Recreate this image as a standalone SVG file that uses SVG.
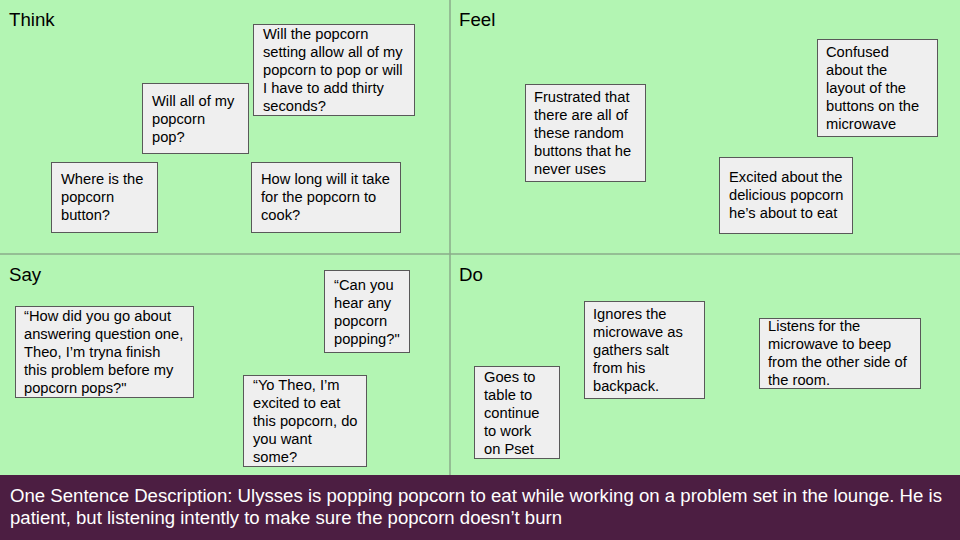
<svg xmlns="http://www.w3.org/2000/svg" width="960" height="540" viewBox="0 0 960 540">
<style>
.bg{fill:#b3f5b3}
.div{stroke:#8aab8a;stroke-width:1.5;fill:none}
.box{fill:#efefef;stroke:#595959;stroke-width:1}
.t{font-family:"Liberation Sans",Arial,sans-serif;font-size:14.7px;fill:#000}
.h{font-family:"Liberation Sans",Arial,sans-serif;font-size:18.7px;fill:#000}
.d{font-family:"Liberation Sans",Arial,sans-serif;font-size:18.7px;fill:#ffffff}
</style>
<rect x="0" y="0" width="960" height="540" class="bg"/>
<g id="dividers">
<line x1="450" y1="0" x2="450" y2="475" class="div"/>
<line x1="0" y1="254" x2="960" y2="254" class="div"/>
</g>
<g id="headings">
<text class="h" x="9" y="26">Think</text>
<text class="h" x="459" y="26">Feel</text>
<text class="h" x="9" y="281">Say</text>
<text class="h" x="459" y="281">Do</text>
</g>
<g id="think-setting">
<rect class="box" x="253.5" y="24.5" width="161" height="91"/>
<text class="t" x="263" y="39">Will the popcorn</text>
<text class="t" x="263" y="57">setting allow all of my</text>
<text class="t" x="263" y="75">popcorn to pop or will</text>
<text class="t" x="263" y="93">I have to add thirty</text>
<text class="t" x="263" y="111">seconds?</text>
</g>
<g id="think-allpop">
<rect class="box" x="142.5" y="83.5" width="106" height="70"/>
<text class="t" x="152" y="106">Will all of my</text>
<text class="t" x="152" y="124">popcorn</text>
<text class="t" x="152" y="142">pop?</text>
</g>
<g id="think-where">
<rect class="box" x="51.5" y="162.5" width="106" height="70"/>
<text class="t" x="61" y="184">Where is the</text>
<text class="t" x="61" y="202">popcorn</text>
<text class="t" x="61" y="220">button?</text>
</g>
<g id="think-howlong">
<rect class="box" x="251.5" y="162.5" width="149" height="70"/>
<text class="t" x="261" y="184">How long will it take</text>
<text class="t" x="261" y="202">for the popcorn to</text>
<text class="t" x="261" y="220">cook?</text>
</g>
<g id="feel-frustrated">
<rect class="box" x="525.5" y="84.5" width="120" height="97"/>
<text class="t" x="534" y="102">Frustrated that</text>
<text class="t" x="534" y="120">there are all of</text>
<text class="t" x="534" y="138">these random</text>
<text class="t" x="534" y="156">buttons that he</text>
<text class="t" x="534" y="174">never uses</text>
</g>
<g id="feel-confused">
<rect class="box" x="817.5" y="39.5" width="120" height="97"/>
<text class="t" x="826" y="57">Confused</text>
<text class="t" x="826" y="75">about the</text>
<text class="t" x="826" y="93">layout of the</text>
<text class="t" x="826" y="111">buttons on the</text>
<text class="t" x="826" y="129">microwave</text>
</g>
<g id="feel-excited">
<rect class="box" x="719.5" y="157.5" width="133" height="76"/>
<text class="t" x="729" y="182">Excited about the</text>
<text class="t" x="729" y="200">delicious popcorn</text>
<text class="t" x="729" y="218">he’s about to eat</text>
</g>
<g id="say-howdid">
<rect class="box" x="15.5" y="306.5" width="178" height="91"/>
<text class="t" x="24" y="321">“How did you go about</text>
<text class="t" x="24" y="339">answering question one,</text>
<text class="t" x="24" y="357">Theo, I’m tryna finish</text>
<text class="t" x="24" y="375">this problem before my</text>
<text class="t" x="24" y="393">popcorn pops?"</text>
</g>
<g id="say-canyou">
<rect class="box" x="324.5" y="270.5" width="85" height="82"/>
<text class="t" x="334" y="290">“Can you</text>
<text class="t" x="334" y="308">hear any</text>
<text class="t" x="334" y="326">popcorn</text>
<text class="t" x="334" y="344">popping?"</text>
</g>
<g id="say-yotheo">
<rect class="box" x="243.5" y="375.5" width="123" height="91"/>
<text class="t" x="253" y="390">“Yo Theo, I’m</text>
<text class="t" x="253" y="408">excited to eat</text>
<text class="t" x="253" y="426">this popcorn, do</text>
<text class="t" x="253" y="444">you want</text>
<text class="t" x="253" y="462">some?</text>
</g>
<g id="do-goes">
<rect class="box" x="474.5" y="366.5" width="85" height="92"/>
<text class="t" x="484" y="382">Goes to</text>
<text class="t" x="484" y="400">table to</text>
<text class="t" x="484" y="418">continue</text>
<text class="t" x="484" y="436">to work</text>
<text class="t" x="484" y="454">on Pset</text>
</g>
<g id="do-ignores">
<rect class="box" x="584.5" y="301.5" width="120" height="97"/>
<text class="t" x="593" y="319">Ignores the</text>
<text class="t" x="593" y="337">microwave as</text>
<text class="t" x="593" y="355">gathers salt</text>
<text class="t" x="593" y="373">from his</text>
<text class="t" x="593" y="391">backpack.</text>
</g>
<g id="do-listens">
<rect class="box" x="759.5" y="318.5" width="161" height="70"/>
<text class="t" x="768" y="331">Listens for the</text>
<text class="t" x="768" y="349">microwave to beep</text>
<text class="t" x="768" y="367">from the other side of</text>
<text class="t" x="768" y="385">the room.</text>
</g>
<g id="description">
<rect x="0" y="475" width="960" height="65" fill="#4c1e42"/>
<text class="d" x="10" y="502" textLength="932" lengthAdjust="spacingAndGlyphs">One Sentence Description: Ulysses is popping popcorn to eat while working on a problem set in the lounge. He is</text>
<text class="d" x="10" y="524" textLength="552" lengthAdjust="spacingAndGlyphs">patient, but listening intently to make sure the popcorn doesn’t burn</text>
</g>
</svg>
